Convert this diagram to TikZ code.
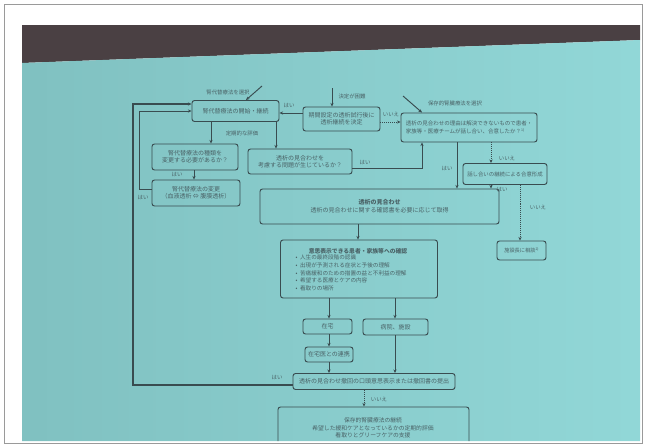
\documentclass[tikz,border=0pt]{standalone}
\usepackage{fontspec}
\newfontfamily\cjk{Noto Sans CJK JP}
\usetikzlibrary{arrows.meta}
\definecolor{scr}{HTML}{8ED6D6}
\definecolor{band}{HTML}{4A4043}
\definecolor{ln}{HTML}{394C50}
\definecolor{tx}{HTML}{4A6266}
\definecolor{frm}{HTML}{9A9A9A}
\begin{document}
\begin{tikzpicture}[x=1pt,y=-1pt,
  bx/.style={draw=ln, line width=0.95pt, rounded corners=2.5pt, inner sep=1pt,
     font=\cjk\fontsize{6}{7.4}\selectfont, text=tx, align=center},
  lbl/.style={font=\cjk\fontsize{5.4}{6}\selectfont, text=tx, inner sep=0.5pt},
  ar/.style={draw=ln, line width=0.95pt, -{Stealth[length=3.6pt,width=3.2pt]}},
  dar/.style={ar, densely dotted}]
\useasboundingbox (0,0) rectangle (646,447);
\fill[white] (0,0) rectangle (646,447);
\draw[frm, line width=0.8pt] (4,4) rectangle (642,443);
% screen
\fill[band] (22,25) -- (640,25) -- (640,40) -- (22,63) -- cycle;
\shade[left color=scr!90!black, right color=scr!97!white] (22,63) -- (640,40) -- (640,441) -- (22,441) -- cycle;

\begin{scope}
\clip (22,63) -- (640,40) -- (640,441) -- (22,441) -- cycle;
% nodes
\node[bx, minimum width=87pt, minimum height=21pt] (A) at (235.5,111) {腎代替療法の開始・継続};
\node[bx, minimum width=77pt, minimum height=24pt] (B) at (341.5,119) {期間設定の透析試行後に\\透析継続を決定};
\node[bx, minimum width=136pt, minimum height=29pt, align=left, font=\cjk\fontsize{5.5}{7.4}\selectfont] (C) at (469,127.5)
  {透析の見合わせの理由は解決できないもので患者・\\家族等・医療チームが話し合い、合意したか？\raisebox{2pt}{\fontsize{3.5}{4}\selectfont 1)}};
\node[bx, minimum width=86pt, minimum height=26pt] (D) at (195,157) {腎代替療法の種類を\\変更する必要があるか？};
\node[bx, minimum width=104pt, minimum height=25pt] (E) at (300,161.5) {透析の見合わせを\\考慮する問題が生じているか？};
\node[bx, minimum width=88pt, minimum height=26pt] (F) at (196,193) {腎代替療法の変更\\（血液透析 ⇔ 腹膜透析）};
\node[bx, minimum width=239pt, minimum height=35pt, font=\cjk\fontsize{6}{8}\selectfont] (G) at (379.5,206.5)
  {{\bfseries 透析の見合わせ}\\透析の見合わせに関する確認書を必要に応じて取得};
\node[bx, minimum width=84pt, minimum height=21pt, font=\cjk\fontsize{5.4}{6}\selectfont] (H) at (505,174) {話し合いの継続による合意形成};
\node[bx, minimum width=49pt, minimum height=19pt, font=\cjk\fontsize{5.2}{6}\selectfont] (I) at (521.5,250.5)
  {施設長に相談\raisebox{2pt}{\fontsize{3.5}{4}\selectfont 2)}};
\node[bx, minimum width=157pt, minimum height=58pt] (J) at (359,269) {};
\node[lbl, font=\cjk\bfseries\fontsize{5.8}{6.5}\selectfont] (Jt) at (358,251.5) {意思表示できる患者・家族等への確認};
\node[lbl, anchor=north west, align=left, font=\cjk\fontsize{5.6}{7.8}\selectfont] (Jl) at (295,254)
  {•\ \ 人生の最終段階の認識\\•\ \ 出現が予測される症状と予後の理解\\•\ \ 苦痛緩和のための措置の益と不利益の理解\\•\ \ 希望する医療とケアの内容\\•\ \ 看取りの場所};
\node[bx, minimum width=49pt, minimum height=15pt] (K) at (327.5,326.5) {在宅};
\node[bx, minimum width=65pt, minimum height=16pt] (L) at (395.5,327) {病院、施設};
\node[bx, minimum width=48pt, minimum height=15pt] (M) at (329,354.5) {在宅医との連携};
\node[bx, minimum width=162pt, minimum height=16pt] (N) at (374,381.5) {透析の見合わせ撤回の口頭意思表示または撤回書の提出};
\node[bx, minimum width=191pt, minimum height=50pt] (O) at (373.5,432) {};
\node[lbl, align=center, font=\cjk\fontsize{5.8}{7.6}\selectfont] (Ot) at (373,428)
  {保存的腎臓療法の継続\\希望した緩和ケアとなっているかの定期的評価\\看取りとグリーフケアの支援};

% labels
\node[lbl] (l1) at (228,92) {腎代替療法を選択};
\node[lbl] (l2) at (352,96) {決定が困難};
\node[lbl] (l3) at (455,103) {保存的腎臓療法を選択};
\node[lbl] (l4) at (289,106) {はい};
\node[lbl] (l5) at (391,114) {いいえ};
\node[lbl] (l6) at (242,133) {定期的な評価};
\node[lbl] (l7) at (365,163) {はい};
\node[lbl] (l8) at (177,175) {はい};
\node[lbl] (l9) at (143,198) {はい};
\node[lbl] (l10) at (447,169) {はい};
\node[lbl] (l11) at (507,158) {いいえ};
\node[lbl] (l12) at (502,190) {はい};
\node[lbl] (l13) at (538,207) {いいえ};
\node[lbl] (l14) at (277,378) {はい};
\node[lbl] (l15) at (379,399) {いいえ};

% coordinates
\coordinate (sA) at (262,86);  \coordinate (xA) at (246,0);
\coordinate (sB) at (332,88);
\coordinate (sC) at (403,96);  \coordinate (xC) at (422,0);
\coordinate (yBA) at (0,113);
\coordinate (yBC) at (0,122);
\coordinate (xAD) at (211,0);
\coordinate (xAE) at (276,0);
\coordinate (yEC) at (0,168);
\coordinate (xDF) at (194,0);
\coordinate (yFA) at (0,189);
\coordinate (xin) at (139,0);
\coordinate (yin) at (0,111);
\coordinate (xout) at (133,0);
\coordinate (yout) at (0,104);
\coordinate (yNA) at (0,385);
\coordinate (xCG) at (457,0);
\coordinate (xCH) at (491,0);
\coordinate (xHI) at (520,0);
\coordinate (xGJ) at (358,0);
\coordinate (xK) at (329,0);
\coordinate (xL) at (395,0);
\coordinate (xNO) at (364,0);

% connectors
\draw[ar] (sA) -- (xA |- A.north);
\draw[ar] (sB) -- (sB |- B.north);
\draw[ar] (sC) -- (xC |- C.north);
\draw[ar] (B.west |- yBA) -- (A.east |- yBA);
\draw[dar] (B.east |- yBC) -- (C.west |- yBC);
\draw[ar] (xAD |- A.south) -- (xAD |- D.north);
\draw[ar] (xAE |- A.south) -- (xAE |- E.north);
\draw[ar] (E.east |- yEC) -| (xC |- C.south);
\draw[ar] (xDF |- D.south) -- (xDF |- F.north);
\draw[ar] (F.west |- yFA) -| (xin |- yin) -- (A.west |- yin);
\draw[ar, line width=1.2pt] (N.west |- yNA) -| (xout |- yout) -- (A.west |- yout);
\draw[ar] (xCG |- C.south) -- (xCG |- G.north);
\draw[dar] (xCH |- C.south) -- (xCH |- H.north);
\draw[ar] (xCH |- H.south) -- (xCH |- G.north);
\draw[dar] (xHI |- H.south) -- (xHI |- I.north);
\draw[ar] (xGJ |- G.south) -- (xGJ |- J.north);
\draw[ar] (xK |- J.south) -- (xK |- K.north);
\draw[ar] (xL |- J.south) -- (xL |- L.north);
\draw[ar] (xK |- K.south) -- (xK |- M.north);
\draw[ar] (xK |- M.south) -- (xK |- N.north);
\draw[ar] (xL |- L.south) -- (xL |- N.north);
\draw[dar] (xNO |- N.south) -- (xNO |- O.north);
\end{scope}
\end{tikzpicture}
\end{document}
